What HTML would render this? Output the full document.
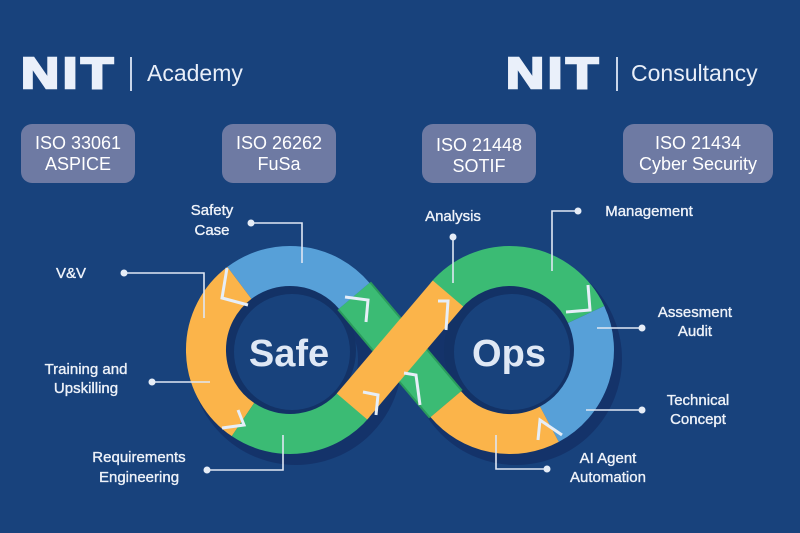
<!DOCTYPE html>
<html><head><meta charset="utf-8"><style>
html,body{margin:0;padding:0;background:#18427c;}
body{width:800px;height:533px;position:relative;overflow:hidden;font-family:"Liberation Sans",sans-serif;}
.box{position:absolute;top:124px;height:59px;background:#6e7aa3;border-radius:11px;color:#fff;text-align:center;font-family:"Liberation Sans Narrow","Liberation Sans",sans-serif;font-size:18px;line-height:21px;padding-top:9px;box-sizing:border-box;}
.nit{position:absolute;top:50px;font-size:44px;font-weight:bold;color:#eaf0fa;-webkit-text-stroke:2.5px #eaf0fa;letter-spacing:3px;transform-origin:0 0;transform:scaleX(1.2);line-height:48px;}
</style></head><body>
<div class="nit" style="left:21px">NIT</div>
<div class="nit" style="left:506px">NIT</div>
<svg width="800" height="533" style="position:absolute;left:0;top:0">
<g font-family="Liberation Sans,sans-serif">
<rect x="130" y="57" width="2" height="34" fill="#c9d6ea"/>
<text x="147" y="81" font-size="23" fill="#e8eef8">Academy</text>
<rect x="616" y="57" width="2" height="34" fill="#c9d6ea"/>
<text x="631" y="81" font-size="23" fill="#e8eef8">Consultancy</text>
</g>
<g fill="none" stroke="#14336a" stroke-width="44" transform="translate(6,9)">
<circle cx="290" cy="350" r="84"/><circle cx="510" cy="350" r="84"/>
</g>
<circle cx="290" cy="350" r="66" fill="#133266"/>
<circle cx="510" cy="350" r="66" fill="#133266"/>
<circle cx="292" cy="352" r="58" fill="#18427c"/>
<circle cx="512" cy="352" r="58" fill="#18427c"/>
<g fill="none" stroke-width="40" stroke-linecap="butt">
<path d="M354.2,295.8 L445.8,404.2" stroke="#2a9a5c" stroke-width="44"/>
<path d="M354.2,295.8 L445.8,404.2" stroke="#3bbb74"/>
<path d="M354.2,295.8 A84,84 0 0 0 239.4,282.9" stroke="#57a0d8"/>
<path d="M239.4,282.9 A84,84 0 0 0 243,419.6" stroke="#fbb44a"/>
<path d="M243,419.6 A84,84 0 0 0 354.2,404.2" stroke="#3bbb74"/>
<path d="M445.8,295.8 A84,84 0 0 1 586.1,314.5" stroke="#3bbb74"/>
<path d="M586.1,314.5 A84,84 0 0 1 549.4,424.2" stroke="#57a0d8"/>
<path d="M549.4,424.2 A84,84 0 0 1 445.8,404.2" stroke="#fbb44a"/>
<path d="M352,406.5 L448,293.5" stroke="#fbb44a"/>
</g>
<g stroke="#e6eef8" stroke-width="3" fill="none">
<path d="M227,268 L222,298 L248,305"/>
<path d="M345,297 L368,300 L366,322"/>
<path d="M238,410 L244,425 L222,428"/>
<path d="M363,392 L378,395 L376,415"/>
<path d="M420,405 L416,375 L404,373"/>
<path d="M438,301 L448,301 L446,330"/>
<path d="M588,285 L590,310 L566,312"/>
<path d="M538,440 L540,420 L562,435"/>
</g>
<g font-family="Liberation Sans,sans-serif" font-weight="bold" font-size="38" fill="#dfe8f5" text-anchor="middle">
<text x="289" y="366">Safe</text><text x="509" y="366">Ops</text>
</g>
<g stroke="#dfe7f3" stroke-width="1.6" fill="none">
<path d="M251,223 H302 V263"/><path d="M124,273 H204 V318"/>
<path d="M152,382 H210"/><path d="M207,470 H283 V435"/>
<path d="M453,237 V283"/><path d="M578,211 H552 V271"/>
<path d="M642,328 H597"/><path d="M642,410 H586"/>
<path d="M547,469 H496 V435"/>
</g>
<g fill="#e6edf7">
<circle cx="251" cy="223" r="3.5"/><circle cx="124" cy="273" r="3.5"/><circle cx="152" cy="382" r="3.5"/>
<circle cx="207" cy="470" r="3.5"/><circle cx="453" cy="237" r="3.5"/><circle cx="578" cy="211" r="3.5"/>
<circle cx="642" cy="328" r="3.5"/><circle cx="642" cy="410" r="3.5"/><circle cx="547" cy="469" r="3.5"/>
</g>
<g font-family="Liberation Sans,sans-serif" font-size="15" fill="#eef2f9" stroke="#eef2f9" stroke-width="0.35" text-anchor="middle">
<text x="212" y="215">Safety</text><text x="212" y="235">Case</text>
<text x="71" y="278">V&amp;V</text>
<text x="86" y="374">Training and</text><text x="86" y="393">Upskilling</text>
<text x="139" y="462">Requirements</text><text x="139" y="482">Engineering</text>
<text x="453" y="221">Analysis</text>
<text x="649" y="216">Management</text>
<text x="695" y="317">Assesment</text><text x="695" y="336">Audit</text>
<text x="698" y="405">Technical</text><text x="698" y="424">Concept</text>
<text x="608" y="463">AI Agent</text><text x="608" y="482">Automation</text>
</g>
</svg>
<div class="box" style="left:21px;width:114px">ISO 33061<br>ASPICE</div>
<div class="box" style="left:222px;width:114px">ISO 26262<br>FuSa</div>
<div class="box" style="left:422px;width:114px;padding-top:11px">ISO 21448<br>SOTIF</div>
<div class="box" style="left:623px;width:150px">ISO 21434<br>Cyber Security</div>
</body></html>
